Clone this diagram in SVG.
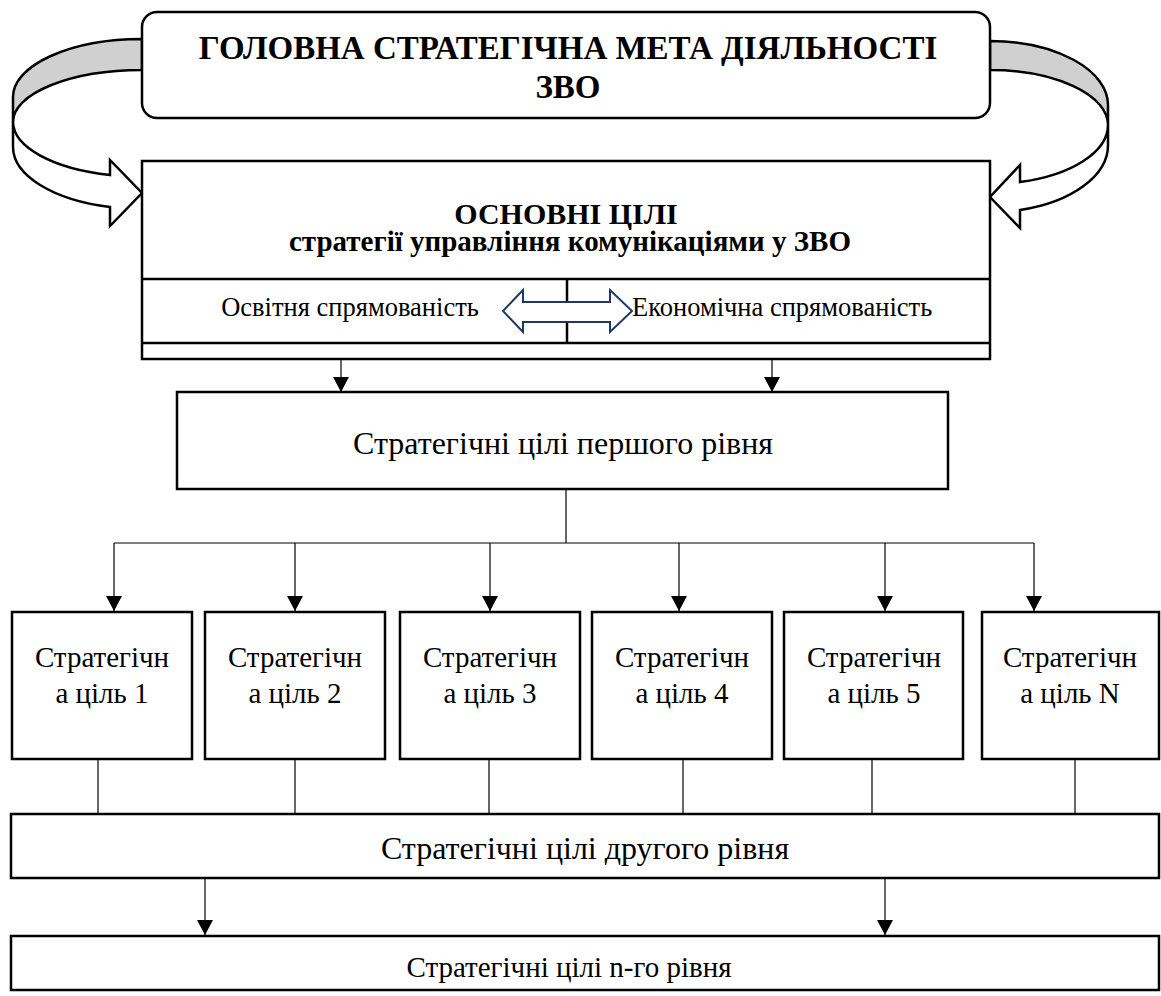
<svg xmlns="http://www.w3.org/2000/svg" width="1161" height="996" viewBox="0 0 1161 996">
  <style>
    .box { fill: #ffffff; stroke: #000000; stroke-width: 2.5; }
    .band-back { fill: #d0d0d0; stroke: #000000; stroke-width: 2.5; stroke-linejoin: round; }
    .band-front { fill: #ffffff; stroke: #000000; stroke-width: 2.5; stroke-linejoin: miter; }
    .rule { stroke: #000000; stroke-width: 2.5; fill: none; }
    .conn { stroke: #000000; stroke-width: 1.2; fill: none; }
    .arrow { stroke: #000000; stroke-width: 1.2; fill: none; marker-end: url(#head); }
    .dbl { fill: #ffffff; stroke: #1f3864; stroke-width: 2; stroke-linejoin: miter; }
    text { font-family: "Liberation Serif", "Times New Roman", serif; fill: #000000; text-anchor: middle; }
    .title { font-size: 33px; font-weight: bold; }
    .sub1 { font-size: 30px; font-weight: bold; }
    .sub2 { font-size: 29px; font-weight: bold; }
    .row { font-size: 26.5px; }
    .body { font-size: 29px; }
    .wide { font-size: 32px; }
  </style>
  <defs>
    <marker id="head" markerUnits="userSpaceOnUse" markerWidth="16" markerHeight="16" viewBox="0 0 16 16" refX="15" refY="8" orient="auto">
      <path d="M0,0 L15,8 L0,16 Z" fill="#000000"/>
    </marker>
  </defs>

  <!-- looping arrows around the top box -->
  <g id="loop-left">
    <path class="band-back" d="M142,39 A129,58 0 0 0 13,97 L13,122 A129,52 0 0 1 142,70 Z"/>
    <path class="band-front" d="M13,122 A129,55 0 0 0 110,175 L110,160 L142,193 L110,226 L110,207 A129,62 0 0 1 13,147 Z"/>
  </g>
  <g id="loop-right">
    <path class="band-back" d="M990,41 A118,64 0 0 1 1108,105 L1108,125 A118,55 0 0 0 990,70 Z"/>
    <path class="band-front" d="M1108,125 A118,59 0 0 1 1020,182 L1020,165 L990,197 L1020,228 L1020,210 A118,67 0 0 0 1108,145 Z"/>
  </g>

  <!-- main goal -->
  <g id="main-goal">
    <rect class="box" x="142" y="12" width="848" height="106" rx="15" ry="15"/>
    <text class="title" x="568" y="59">ГОЛОВНА СТРАТЕГІЧНА МЕТА ДІЯЛЬНОСТІ</text>
    <text class="title" x="568" y="98">ЗВО</text>
  </g>

  <!-- core goals block -->
  <g id="core-goals">
    <rect class="box" x="142" y="161" width="848" height="198"/>
    <line class="rule" x1="142" y1="279" x2="990" y2="279"/>
    <line class="rule" x1="142" y1="343" x2="990" y2="343"/>
    <line class="rule" x1="567" y1="279" x2="567" y2="343"/>
    <text class="sub1" x="566" y="224">ОСНОВНІ ЦІЛІ</text>
    <text class="sub2" x="570" y="251">стратегії управління комунікаціями у ЗВО</text>
    <text class="row" x="350" y="316">Освітня спрямованість</text>
    <text class="row" x="632" y="316" style="text-anchor: start">Економічна спрямованість</text>
    <polygon class="dbl" points="503,311 523,290 523,302 610,302 610,290 632,311 610,332 610,322 523,322 523,332"/>
  </g>

  <g id="level-1">
    <rect class="box" x="177" y="392" width="771" height="97"/>
    <text class="wide" x="563" y="454">Стратегічні цілі першого рівня</text>
  </g>

  <g id="goal-1">
    <rect class="box" x="12" y="612" width="180" height="147"/>
    <text class="body" x="102" y="667">Стратегічн</text>
    <text class="body" x="102" y="703">а ціль 1</text>
  </g>
  <g id="goal-2">
    <rect class="box" x="205" y="612" width="180" height="147"/>
    <text class="body" x="295" y="667">Стратегічн</text>
    <text class="body" x="295" y="703">а ціль 2</text>
  </g>
  <g id="goal-3">
    <rect class="box" x="400" y="612" width="180" height="147"/>
    <text class="body" x="490" y="667">Стратегічн</text>
    <text class="body" x="490" y="703">а ціль 3</text>
  </g>
  <g id="goal-4">
    <rect class="box" x="592" y="612" width="180" height="147"/>
    <text class="body" x="682" y="667">Стратегічн</text>
    <text class="body" x="682" y="703">а ціль 4</text>
  </g>
  <g id="goal-5">
    <rect class="box" x="784" y="612" width="179" height="147"/>
    <text class="body" x="874" y="667">Стратегічн</text>
    <text class="body" x="874" y="703">а ціль 5</text>
  </g>
  <g id="goal-n">
    <rect class="box" x="982" y="612" width="177" height="147"/>
    <text class="body" x="1070" y="667">Стратегічн</text>
    <text class="body" x="1070" y="703">а ціль N</text>
  </g>

  <g id="level-2">
    <rect class="box" x="11" y="814" width="1148" height="64"/>
    <text class="wide" x="585" y="859">Стратегічні цілі другого рівня</text>
  </g>

  <g id="level-n">
    <rect class="box" x="11" y="936" width="1148" height="54"/>
    <text class="body" x="569" y="977">Стратегічні цілі n-го рівня</text>
  </g>

  <!-- connectors -->
  <g id="connectors">
    <line class="arrow" x1="341" y1="359" x2="341" y2="392"/>
    <line class="arrow" x1="772" y1="359" x2="772" y2="392"/>
    <line class="conn" x1="566" y1="489" x2="566" y2="543"/>
    <line class="conn" x1="114" y1="543" x2="1034" y2="543"/>
    <line class="arrow" x1="114" y1="543" x2="114" y2="611"/>
    <line class="arrow" x1="295" y1="543" x2="295" y2="611"/>
    <line class="arrow" x1="490" y1="543" x2="490" y2="611"/>
    <line class="arrow" x1="679" y1="543" x2="679" y2="611"/>
    <line class="arrow" x1="885" y1="543" x2="885" y2="611"/>
    <line class="arrow" x1="1034" y1="543" x2="1034" y2="611"/>
    <line class="conn" x1="98" y1="759" x2="98" y2="814"/>
    <line class="conn" x1="295" y1="759" x2="295" y2="814"/>
    <line class="conn" x1="489" y1="759" x2="489" y2="814"/>
    <line class="conn" x1="683" y1="759" x2="683" y2="814"/>
    <line class="conn" x1="872" y1="759" x2="872" y2="814"/>
    <line class="conn" x1="1075" y1="759" x2="1075" y2="814"/>
    <line class="arrow" x1="205" y1="878" x2="205" y2="935"/>
    <line class="arrow" x1="885" y1="878" x2="885" y2="935"/>
  </g>
</svg>
